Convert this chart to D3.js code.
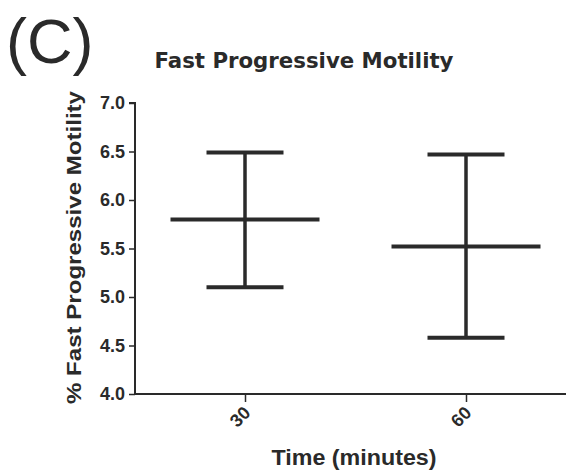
<!DOCTYPE html>
<html lang="en">
<head>
    <meta charset="UTF-8">
    <title>Fast Progressive Motility</title>
    <script src="https://d3js.org/d3.v7.min.js"></script>
    <style>
        body { margin: 0; background: #fff; font-family: "Liberation Sans", Arial, sans-serif; }
        svg text { fill: #2a2a2a; }
    </style>
</head>
<body>
    <div id="chart"></div>
    <script>
        // data
        const times = ["30", "60"];
        const means = [5.80, 5.52];
        const upper = [6.49, 6.47];
        const lower = [5.10, 4.58];
        const yTicks = [4.0, 4.5, 5.0, 5.5, 6.0, 6.5, 7.0];

        const W = 570, H = 474;
        const plot = { left: 135, right: 566, top: 103, bottom: 394 };
        const ink = "#2a2a2a";
        const font = "Liberation Sans, Arial, sans-serif";

        const svg = d3.select("#chart").append("svg")
            .attr("width", W).attr("height", H);

        const x = d3.scalePoint().domain(times).range([245, 466]);
        const y = d3.scaleLinear().domain([4, 7]).range([plot.bottom, plot.top]);

        // y axis
        const yAxis = svg.append("g")
            .attr("transform", `translate(${plot.left},0)`)
            .call(d3.axisLeft(y).tickValues(yTicks).tickFormat(d3.format(".1f")).tickSize(6).tickPadding(4));
        yAxis.select(".domain").attr("stroke", ink).attr("stroke-width", 2).attr("d", `M-6,${y(7)}H0V${plot.bottom}`);
        yAxis.selectAll(".tick line").attr("stroke", ink).attr("stroke-width", 1.5);
        yAxis.selectAll(".tick text")
            .attr("font-size", 18).attr("font-weight", "bold")
            .attr("font-family", font).style("fill", ink);

        // x axis
        const xAxis = svg.append("g")
            .attr("transform", `translate(0,${plot.bottom})`)
            .call(d3.axisBottom(x).tickSize(8));
        xAxis.select(".domain").attr("stroke", ink).attr("stroke-width", 2).attr("d", `M${plot.left},0H${plot.right}`);
        xAxis.selectAll(".tick line").attr("stroke", ink).attr("stroke-width", 1.5);
        xAxis.selectAll(".tick text")
            .attr("font-size", 18).attr("font-weight", "bold")
            .attr("font-family", font).style("fill", ink)
            .attr("text-anchor", "end")
            .attr("dy", null).attr("y", 0)
            .attr("transform", "translate(6,20) rotate(-45)");

        // error bars
        const g = svg.append("g").attr("stroke", ink).attr("stroke-linecap", "butt");
        times.forEach((t, i) => {
            const cx = x(t);
            g.append("line").attr("x1", cx).attr("x2", cx)
                .attr("y1", y(upper[i])).attr("y2", y(lower[i])).attr("stroke-width", 3.5);
            [upper[i], lower[i]].forEach(v => {
                g.append("line").attr("x1", cx - 38.5).attr("x2", cx + 38.5)
                    .attr("y1", y(v)).attr("y2", y(v)).attr("stroke-width", 4);
            });
            g.append("line").attr("x1", cx - 74.5).attr("x2", cx + 74.5)
                .attr("y1", y(means[i])).attr("y2", y(means[i])).attr("stroke-width", 4);
        });

        // titles
        svg.append("text").attr("x", 6).attr("y", 63)
            .attr("font-size", 63).attr("font-family", font)
            .text("(C)");

        svg.append("text").attr("x", 304).attr("y", 68).attr("text-anchor", "middle")
            .attr("font-size", 21).attr("font-weight", "bold")
            .attr("font-family", "DejaVu Sans, Verdana, sans-serif")
            .attr("textLength", 299).attr("lengthAdjust", "spacingAndGlyphs")
            .text("Fast Progressive Motility");

        svg.append("text").attr("x", 354).attr("y", 465).attr("text-anchor", "middle")
            .attr("font-size", 22).attr("font-weight", "bold")
            .attr("font-family", font)
            .attr("textLength", 165).attr("lengthAdjust", "spacingAndGlyphs")
            .text("Time (minutes)");

        svg.append("text")
            .attr("transform", `translate(81,${(90 + 405) / 2}) rotate(-90)`)
            .attr("text-anchor", "middle")
            .attr("font-size", 20).attr("font-weight", "bold")
            .attr("font-family", font)
            .attr("textLength", 313).attr("lengthAdjust", "spacingAndGlyphs")
            .text("% Fast Progressive Motility");
    </script>
</body>
</html>
